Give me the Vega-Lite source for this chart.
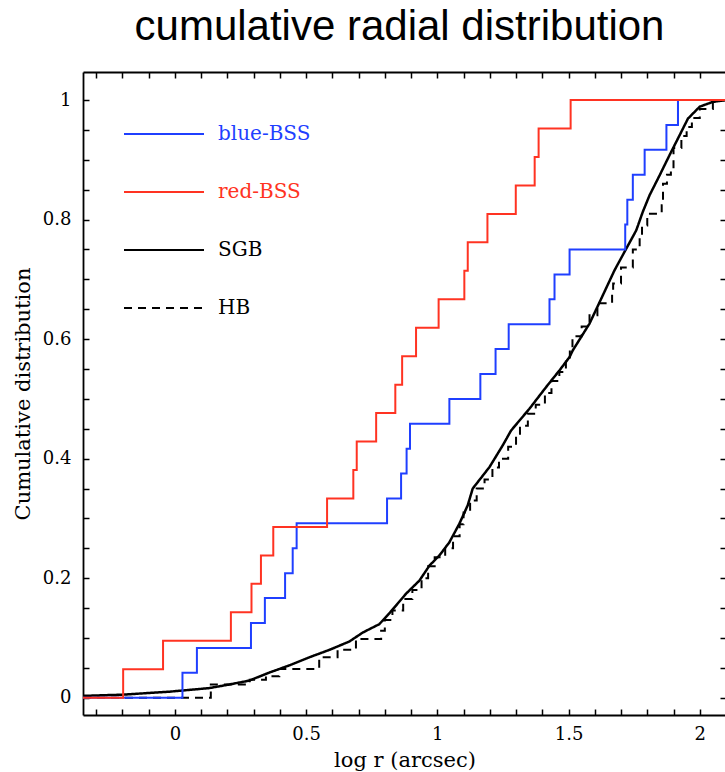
{
  "$schema": "https://vega.github.io/schema/vega-lite/v6.json",
  "width": 643,
  "height": 643,
  "autosize": "none",
  "padding": {"left": 83, "top": 72, "right": 0, "bottom": 57},
  "background": "white",
  "title": {"text": "cumulative radial distribution", "font": "Liberation Sans", "fontSize": 42, "fontWeight": "normal", "color": "black", "anchor": "middle", "dx": -5, "offset": 22},
  "config": {"view": {"stroke": null}},
  "data": {"values": [
    {"s": "SGB", "x": -0.35, "y": 0.003}, {"s": "SGB", "x": -0.2, "y": 0.005}, {"s": "SGB", "x": -0.021, "y": 0.01}, {"s": "SGB", "x": 0.055, "y": 0.013}, {"s": "SGB", "x": 0.131, "y": 0.016}, {"s": "SGB", "x": 0.207, "y": 0.022}, {"s": "SGB", "x": 0.283, "y": 0.0285}, {"s": "SGB", "x": 0.36, "y": 0.042}, {"s": "SGB", "x": 0.436, "y": 0.054}, {"s": "SGB", "x": 0.512, "y": 0.0675}, {"s": "SGB", "x": 0.589, "y": 0.08}, {"s": "SGB", "x": 0.665, "y": 0.094}, {"s": "SGB", "x": 0.716, "y": 0.109}, {"s": "SGB", "x": 0.779, "y": 0.123}, {"s": "SGB", "x": 0.817, "y": 0.141}, {"s": "SGB", "x": 0.881, "y": 0.174}, {"s": "SGB", "x": 0.932, "y": 0.196}, {"s": "SGB", "x": 0.97, "y": 0.221}, {"s": "SGB", "x": 1.008, "y": 0.238}, {"s": "SGB", "x": 1.046, "y": 0.26}, {"s": "SGB", "x": 1.084, "y": 0.291}, {"s": "SGB", "x": 1.116, "y": 0.322}, {"s": "SGB", "x": 1.135, "y": 0.35}, {"s": "SGB", "x": 1.199, "y": 0.386}, {"s": "SGB", "x": 1.249, "y": 0.422}, {"s": "SGB", "x": 1.281, "y": 0.447}, {"s": "SGB", "x": 1.351, "y": 0.4835}, {"s": "SGB", "x": 1.415, "y": 0.52}, {"s": "SGB", "x": 1.466, "y": 0.548}, {"s": "SGB", "x": 1.504, "y": 0.57}, {"s": "SGB", "x": 1.516, "y": 0.581}, {"s": "SGB", "x": 1.58, "y": 0.626}, {"s": "SGB", "x": 1.625, "y": 0.668}, {"s": "SGB", "x": 1.675, "y": 0.715}, {"s": "SGB", "x": 1.717, "y": 0.749}, {"s": "SGB", "x": 1.758, "y": 0.782}, {"s": "SGB", "x": 1.783, "y": 0.813}, {"s": "SGB", "x": 1.809, "y": 0.841}, {"s": "SGB", "x": 1.847, "y": 0.874}, {"s": "SGB", "x": 1.885, "y": 0.908}, {"s": "SGB", "x": 1.923, "y": 0.941}, {"s": "SGB", "x": 1.955, "y": 0.969}, {"s": "SGB", "x": 2.0, "y": 0.989}, {"s": "SGB", "x": 2.05, "y": 0.997}, {"s": "SGB", "x": 2.1, "y": 1.0},

    {"s": "HB", "x": -0.35, "y": 0}, {"s": "HB", "x": 0.137, "y": 0.022}, {"s": "HB", "x": 0.285, "y": 0.03}, {"s": "HB", "x": 0.347, "y": 0.036}, {"s": "HB", "x": 0.398, "y": 0.048}, {"s": "HB", "x": 0.55, "y": 0.0675}, {"s": "HB", "x": 0.62, "y": 0.08}, {"s": "HB", "x": 0.69, "y": 0.098}, {"s": "HB", "x": 0.786, "y": 0.112}, {"s": "HB", "x": 0.8, "y": 0.13}, {"s": "HB", "x": 0.829, "y": 0.146}, {"s": "HB", "x": 0.87, "y": 0.165}, {"s": "HB", "x": 0.905, "y": 0.18}, {"s": "HB", "x": 0.94, "y": 0.2}, {"s": "HB", "x": 0.965, "y": 0.22}, {"s": "HB", "x": 0.99, "y": 0.235}, {"s": "HB", "x": 1.03, "y": 0.25}, {"s": "HB", "x": 1.06, "y": 0.27}, {"s": "HB", "x": 1.085, "y": 0.29}, {"s": "HB", "x": 1.1, "y": 0.31}, {"s": "HB", "x": 1.125, "y": 0.33}, {"s": "HB", "x": 1.15, "y": 0.35}, {"s": "HB", "x": 1.18, "y": 0.365}, {"s": "HB", "x": 1.21, "y": 0.385}, {"s": "HB", "x": 1.235, "y": 0.4}, {"s": "HB", "x": 1.27, "y": 0.42}, {"s": "HB", "x": 1.3, "y": 0.44}, {"s": "HB", "x": 1.315, "y": 0.455}, {"s": "HB", "x": 1.345, "y": 0.475}, {"s": "HB", "x": 1.375, "y": 0.49}, {"s": "HB", "x": 1.41, "y": 0.51}, {"s": "HB", "x": 1.435, "y": 0.53}, {"s": "HB", "x": 1.465, "y": 0.545}, {"s": "HB", "x": 1.49, "y": 0.565}, {"s": "HB", "x": 1.505, "y": 0.585}, {"s": "HB", "x": 1.515, "y": 0.605}, {"s": "HB", "x": 1.55, "y": 0.621}, {"s": "HB", "x": 1.58, "y": 0.64}, {"s": "HB", "x": 1.61, "y": 0.66}, {"s": "HB", "x": 1.666, "y": 0.676}, {"s": "HB", "x": 1.67, "y": 0.693}, {"s": "HB", "x": 1.7, "y": 0.72}, {"s": "HB", "x": 1.745, "y": 0.75}, {"s": "HB", "x": 1.771, "y": 0.769}, {"s": "HB", "x": 1.78, "y": 0.79}, {"s": "HB", "x": 1.8, "y": 0.81}, {"s": "HB", "x": 1.855, "y": 0.824}, {"s": "HB", "x": 1.86, "y": 0.86}, {"s": "HB", "x": 1.875, "y": 0.875}, {"s": "HB", "x": 1.89, "y": 0.885}, {"s": "HB", "x": 1.9, "y": 0.92}, {"s": "HB", "x": 1.93, "y": 0.94}, {"s": "HB", "x": 1.95, "y": 0.955}, {"s": "HB", "x": 1.97, "y": 0.97}, {"s": "HB", "x": 2.0, "y": 0.985}, {"s": "HB", "x": 2.05, "y": 1.0}, {"s": "HB", "x": 2.1, "y": 1.0},

    {"s": "blue-BSS", "x": -0.35, "y": 0}, {"s": "blue-BSS", "x": 0.029, "y": 0.0417}, {"s": "blue-BSS", "x": 0.084, "y": 0.0833}, {"s": "blue-BSS", "x": 0.29, "y": 0.125}, {"s": "blue-BSS", "x": 0.343, "y": 0.1667}, {"s": "blue-BSS", "x": 0.42, "y": 0.2083}, {"s": "blue-BSS", "x": 0.449, "y": 0.25}, {"s": "blue-BSS", "x": 0.464, "y": 0.2917}, {"s": "blue-BSS", "x": 0.8085, "y": 0.3333}, {"s": "blue-BSS", "x": 0.862, "y": 0.375}, {"s": "blue-BSS", "x": 0.883, "y": 0.4167}, {"s": "blue-BSS", "x": 0.896, "y": 0.4583}, {"s": "blue-BSS", "x": 1.046, "y": 0.5}, {"s": "blue-BSS", "x": 1.164, "y": 0.5417}, {"s": "blue-BSS", "x": 1.222, "y": 0.5833}, {"s": "blue-BSS", "x": 1.272, "y": 0.625}, {"s": "blue-BSS", "x": 1.4275, "y": 0.6667}, {"s": "blue-BSS", "x": 1.4466, "y": 0.7083}, {"s": "blue-BSS", "x": 1.504, "y": 0.75}, {"s": "blue-BSS", "x": 1.716, "y": 0.7917}, {"s": "blue-BSS", "x": 1.724, "y": 0.8333}, {"s": "blue-BSS", "x": 1.745, "y": 0.875}, {"s": "blue-BSS", "x": 1.79, "y": 0.9167}, {"s": "blue-BSS", "x": 1.873, "y": 0.9583}, {"s": "blue-BSS", "x": 1.917, "y": 1.0}, {"s": "blue-BSS", "x": 2.1, "y": 1.0},

    {"s": "red-BSS", "x": -0.35, "y": 0}, {"s": "red-BSS", "x": -0.197, "y": 0.0476}, {"s": "red-BSS", "x": -0.045, "y": 0.0952}, {"s": "red-BSS", "x": 0.2135, "y": 0.1429}, {"s": "red-BSS", "x": 0.292, "y": 0.1905}, {"s": "red-BSS", "x": 0.328, "y": 0.2381}, {"s": "red-BSS", "x": 0.375, "y": 0.2857}, {"s": "red-BSS", "x": 0.58, "y": 0.3333}, {"s": "red-BSS", "x": 0.68, "y": 0.381}, {"s": "red-BSS", "x": 0.693, "y": 0.4286}, {"s": "red-BSS", "x": 0.767, "y": 0.4762}, {"s": "red-BSS", "x": 0.84, "y": 0.5238}, {"s": "red-BSS", "x": 0.866, "y": 0.5714}, {"s": "red-BSS", "x": 0.919, "y": 0.619}, {"s": "red-BSS", "x": 1.005, "y": 0.6667}, {"s": "red-BSS", "x": 1.103, "y": 0.7143}, {"s": "red-BSS", "x": 1.116, "y": 0.7619}, {"s": "red-BSS", "x": 1.191, "y": 0.8095}, {"s": "red-BSS", "x": 1.299, "y": 0.8571}, {"s": "red-BSS", "x": 1.371, "y": 0.9048}, {"s": "red-BSS", "x": 1.386, "y": 0.9524}, {"s": "red-BSS", "x": 1.508, "y": 1.0}, {"s": "red-BSS", "x": 2.1, "y": 1.0}
  ]},
  "encoding": {
    "color": {"field": "s", "type": "nominal",
      "scale": {"domain": ["blue-BSS", "red-BSS", "SGB", "HB"], "range": ["#1f3fff", "#ff3322", "#000000", "#000000"]},
      "legend": {"orient": "none", "legendX": 40, "legendY": 21, "title": null, "symbolType": "stroke", "symbolSize": 6400, "symbolStrokeWidth": 2, "labelFont": "DejaVu Serif", "labelFontSize": 20, "labelOffset": 13, "rowPadding": 7, "padding": 0,
        "encode": {"labels": {"update": {"fill": {"signal": "datum.value === 'blue-BSS' ? '#1f3fff' : datum.value === 'red-BSS' ? '#ff3322' : '#000000'"}}}}}},
    "strokeDash": {"field": "s", "type": "nominal",
      "scale": {"domain": ["blue-BSS", "red-BSS", "SGB", "HB"], "range": [[1, 0], [1, 0], [1, 0], [8, 6]]},
      "legend": {"orient": "none", "legendX": 40, "legendY": 21, "title": null, "symbolType": "stroke", "symbolSize": 6400, "symbolStrokeWidth": 2, "labelFont": "DejaVu Serif", "labelFontSize": 20, "labelOffset": 13, "rowPadding": 7, "padding": 0,
        "encode": {"labels": {"update": {"fill": {"signal": "datum.value === 'blue-BSS' ? '#1f3fff' : datum.value === 'red-BSS' ? '#ff3322' : '#000000'"}}}}}}
  },
  "layer": [
    {
      "transform": [{"filter": "datum.s === 'SGB'"}],
      "mark": {"type": "line", "strokeWidth": 2.5, "clip": true},
      "encoding": {
        "x": {"field": "x", "type": "quantitative", "scale": {"domain": [-0.35, 2.1], "nice": false, "zero": false},
          "axis": {"orient": "bottom", "values": [-0.3, -0.2, -0.1, 0, 0.1, 0.2, 0.3, 0.4, 0.5, 0.6, 0.7, 0.8, 0.9, 1, 1.1, 1.2, 1.3, 1.4, 1.5, 1.6, 1.7, 1.8, 1.9, 2],
            "grid": false, "ticks": true, "tickSize": -6, "tickColor": "black", "tickWidth": 1.5, "domainColor": "black", "domainWidth": 1.8,
            "labelExpr": "abs(round(datum.value*2)-datum.value*2) < 0.000001 ? format(datum.value, '~g') : ''",
            "labelFont": "DejaVu Serif", "labelFontSize": 18, "labelColor": "black", "labelPadding": 16, "labelOverlap": false, "labelFlush": false, "labelBound": false,
            "title": "log r (arcsec)", "titleFont": "DejaVu Serif", "titleFontSize": 21, "titleFontWeight": "normal", "titleColor": "black", "titlePadding": 6,
            "encode": {"ticks": {"update": {"y2": {"signal": "abs(round(datum.value*2)-datum.value*2) < 0.000001 ? -12 : -6"}}}}}},
        "y": {"field": "y", "type": "quantitative", "scale": {"domain": [-0.029, 1.047], "nice": false, "zero": false},
          "axis": {"orient": "left", "values": [0, 0.05, 0.1, 0.15, 0.2, 0.25, 0.3, 0.35, 0.4, 0.45, 0.5, 0.55, 0.6, 0.65, 0.7, 0.75, 0.8, 0.85, 0.9, 0.95, 1],
            "grid": false, "ticks": true, "tickSize": -6, "tickColor": "black", "tickWidth": 1.5, "domainColor": "black", "domainWidth": 1.8,
            "labelExpr": "abs(round(datum.value*5)-datum.value*5) < 0.000001 ? format(datum.value, '~g') : ''",
            "labelFont": "DejaVu Serif", "labelFontSize": 18, "labelColor": "black", "labelPadding": 18, "labelOverlap": false, "labelFlush": false, "labelBound": false,
            "title": "Cumulative distribution", "titleFont": "DejaVu Serif", "titleFontSize": 21, "titleFontWeight": "normal", "titleColor": "black", "titlePadding": 9,
            "encode": {"ticks": {"update": {"x2": {"signal": "abs(round(datum.value*5)-datum.value*5) < 0.000001 ? 12 : 6"}}}}}}
      }
    },
    {
      "transform": [{"filter": "datum.s !== 'SGB'"}],
      "mark": {"type": "line", "interpolate": "step-after", "strokeWidth": 2, "clip": true},
      "encoding": {
        "x": {"field": "x", "type": "quantitative", "scale": {"domain": [-0.35, 2.1], "nice": false, "zero": false},
          "axis": {"orient": "top", "values": [-0.3, -0.2, -0.1, 0, 0.1, 0.2, 0.3, 0.4, 0.5, 0.6, 0.7, 0.8, 0.9, 1, 1.1, 1.2, 1.3, 1.4, 1.5, 1.6, 1.7, 1.8, 1.9, 2],
            "grid": false, "labels": false, "title": null, "ticks": true, "tickSize": -6, "tickColor": "black", "tickWidth": 1.5, "domainColor": "black", "domainWidth": 1.8,
            "encode": {"ticks": {"update": {"y2": {"signal": "abs(round(datum.value*2)-datum.value*2) < 0.000001 ? 12 : 6"}}}}}},
        "y": {"field": "y", "type": "quantitative", "scale": {"domain": [-0.029, 1.047], "nice": false, "zero": false},
          "axis": {"orient": "right", "values": [0, 0.05, 0.1, 0.15, 0.2, 0.25, 0.3, 0.35, 0.4, 0.45, 0.5, 0.55, 0.6, 0.65, 0.7, 0.75, 0.8, 0.85, 0.9, 0.95, 1],
            "grid": false, "labels": false, "title": null, "ticks": true, "tickSize": -6, "tickColor": "black", "tickWidth": 1.5, "domainColor": "black", "domainWidth": 1.8,
            "encode": {"ticks": {"update": {"x2": {"signal": "abs(round(datum.value*5)-datum.value*5) < 0.000001 ? -12 : -6"}}}}}}
      }
    }
  ],
  "resolve": {"axis": {"x": "independent", "y": "independent"}}
}
